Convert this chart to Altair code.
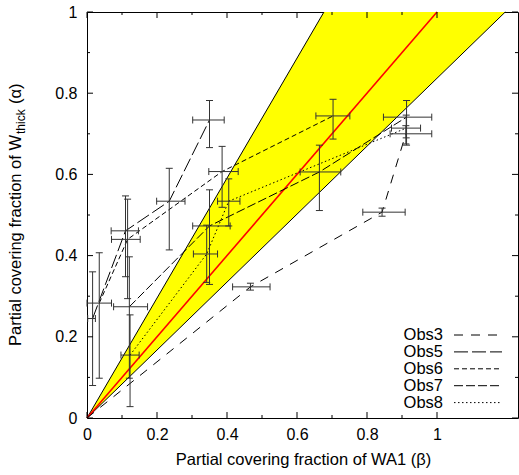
import altair as alt
import pandas as pd

# ---- series definitions -------------------------------------------------
series_names = ["Obs3", "Obs5", "Obs6", "Obs7", "Obs8"]
series_dashes = [[9, 8], [14, 4], [5, 3], [9, 3], [1.5, 2.5]]

# ---- measured points: covering fractions with error-bar extents ----------
pt_series = (["Obs3"] * 4 + ["Obs5"] * 4 + ["Obs6"] * 4
             + ["Obs7"] * 4 + ["Obs8"] * 4)
beta = [0.000, 0.467, 0.843, 0.911,
        0.016, 0.110, 0.235, 0.350,
        0.035, 0.116, 0.386, 0.703,
        0.121, 0.350, 0.664, 0.913,
        0.123, 0.342, 0.405, 0.912]
alpha = [0.000, 0.323, 0.507, 0.700,
         0.245, 0.461, 0.534, 0.734,
         0.283, 0.440, 0.607, 0.744,
         0.274, 0.473, 0.606, 0.741,
         0.155, 0.404, 0.534, 0.714]
beta_lo = [None, 0.416, 0.788, 0.866,
           0.002, 0.069, 0.199, 0.302,
           0.000, 0.070, 0.348, 0.654,
           0.076, 0.302, 0.609, 0.847,
           0.097, 0.304, 0.373, 0.870]
beta_hi = [None, 0.523, 0.909, 0.985,
           0.024, 0.147, 0.280, 0.392,
           0.070, 0.152, 0.432, 0.751,
           0.173, 0.409, 0.725, 0.985,
           0.149, 0.373, 0.437, 0.953]
alpha_lo = [None, 0.315, 0.497, 0.675,
            0.080, 0.348, 0.414, 0.666,
            0.098, 0.294, 0.519, 0.687,
            0.098, 0.329, 0.511, 0.672,
            0.028, 0.334, 0.473, 0.690]
alpha_hi = [None, 0.332, 0.517, 0.720,
            0.360, 0.547, 0.615, 0.782,
            0.407, 0.539, 0.669, 0.785,
            0.397, 0.562, 0.672, 0.782,
            0.254, 0.475, 0.589, 0.746]

# ---- allowed region (yellow band) and the one-to-one line -----------------
band_beta = [0.0, 0.677, 1.195]
band_upper = [0.0, 1.0, 1.0]
band_lower = [0.0, 0.567, 1.0]
upper_edge_beta = [0.0, 0.677]
upper_edge_alpha = [0.0, 1.0]
lower_edge_beta = [0.0, 1.195]
lower_edge_alpha = [0.0, 1.0]
equal_beta = [0.0, 1.0]
equal_alpha = [0.0, 1.0]

x_major = [0.0, 0.2, 0.4, 0.6, 0.8, 1.0]
x_minor = [0.1, 0.3, 0.5, 0.7, 0.9]
y_major = [0.0, 0.2, 0.4, 0.6, 0.8, 1.0]
y_minor = [0.1, 0.3, 0.5, 0.7, 0.9]

# ---- layout ---------------------------------------------------------------
W, H = 431, 406
FONT = "Liberation Sans"
BAR = "#333333"

pts = pd.DataFrame({
    "series": pt_series, "beta": beta, "alpha": alpha,
    "blo": beta_lo, "bhi": beta_hi, "alo": alpha_lo, "ahi": alpha_hi,
})
pts["order"] = range(len(pts))

xs = alt.Scale(domain=[0, W / 350.0], nice=False, zero=False)
ys = alt.Scale(domain=[0, 1], nice=False, zero=False)
x_axis = alt.Axis(values=x_major, format="~g", labelPadding=8, title=None,
                  labelFlush=False)
y_axis = alt.Axis(values=y_major, format="~g", labelPadding=10, title=None,
                  labelFlush=False)


def X(field):
    return alt.X(field, scale=xs, axis=x_axis)


def Y(field):
    return alt.Y(field, scale=ys, axis=y_axis)


band_df = pd.DataFrame({"b": band_beta, "lo": band_lower, "hi": band_upper})
band = alt.Chart(band_df).mark_area(color="#ffff00", opacity=1).encode(
    x=X("b:Q"), y=Y("lo:Q"), y2="hi:Q",
)


def simple_line(bx, ay, color, width):
    df = pd.DataFrame({"b": bx, "a": ay})
    return alt.Chart(df).mark_line(color=color, strokeWidth=width).encode(
        x=X("b:Q"), y=Y("a:Q"))


upper_edge = simple_line(upper_edge_beta, upper_edge_alpha, "black", 1)
lower_edge = simple_line(lower_edge_beta, lower_edge_alpha, "black", 1)
equal_line = simple_line(equal_beta, equal_alpha, "#ff0000", 1.6)

base = alt.Chart(pts)
valid = "isValid(datum.blo)"
bars = base.transform_filter(valid)

vbars = bars.mark_rule(color=BAR, strokeWidth=1).encode(
    x=X("beta:Q"), y=Y("alo:Q"), y2="ahi:Q")
hbars = bars.mark_rule(color=BAR, strokeWidth=1).encode(
    x=X("blo:Q"), x2="bhi:Q", y=Y("alpha:Q"))
caps_lo = bars.mark_rule(color=BAR, strokeWidth=1, xOffset=-3.5, x2Offset=3.5).encode(
    x=X("beta:Q"), x2="beta:Q", y=Y("alo:Q"))
caps_hi = bars.mark_rule(color=BAR, strokeWidth=1, xOffset=-3.5, x2Offset=3.5).encode(
    x=X("beta:Q"), x2="beta:Q", y=Y("ahi:Q"))
caps_l = bars.mark_rule(color=BAR, strokeWidth=1, yOffset=-3.5, y2Offset=3.5).encode(
    x=X("blo:Q"), y=Y("alpha:Q"), y2="alpha:Q")
caps_r = bars.mark_rule(color=BAR, strokeWidth=1, yOffset=-3.5, y2Offset=3.5).encode(
    x=X("bhi:Q"), y=Y("alpha:Q"), y2="alpha:Q")

dash_scale = alt.Scale(domain=series_names, range=series_dashes)
series_lines = base.mark_line(color="black", strokeWidth=1).encode(
    x=X("beta:Q"), y=Y("alpha:Q"), order="order:Q", detail="series:N",
    strokeDash=alt.StrokeDash("series:N", scale=dash_scale, legend=None),
)


# ---- inward ticks on all four sides --------------------------------------
def tick_layers(vals_x, vals_y, length):
    rx = alt.Chart(pd.DataFrame({"v": vals_x})).mark_rule(color="black", strokeWidth=1)
    ry = alt.Chart(pd.DataFrame({"v": vals_y})).mark_rule(color="black", strokeWidth=1)
    return [
        rx.encode(x=X("v:Q"), y=alt.value(H), y2=alt.value(H - length)),
        rx.encode(x=X("v:Q"), y=alt.value(0), y2=alt.value(length)),
        ry.encode(y=Y("v:Q"), x=alt.value(0), x2=alt.value(length)),
        ry.encode(y=Y("v:Q"), x=alt.value(W), x2=alt.value(W - length)),
    ]


ticks = tick_layers(x_major, y_major, 6) + tick_layers(x_minor, y_minor, 3)


def label(text, x, y, size=16.5, align="center", baseline="alphabetic", angle=0):
    kw = dict(font=FONT, fontSize=size, color="black", align=align, baseline=baseline)
    if angle:
        kw["angle"] = angle
    return alt.Chart(pd.DataFrame({"t": [text]})).mark_text(**kw).encode(
        text="t:N", x=alt.value(x), y=alt.value(y))


# ---- axis titles ----------------------------------------------------------
x_title = label("Partial covering fraction of WA1 (\u03b2)", 216.5, 453)
yt_main = label("Partial covering fraction of W", -66, 123, align="right", angle=270)
yt_sub = label("thick", -62, 122, size=12, align="left", angle=270)
yt_end = label("(\u03b1)", -66, 92, align="left", angle=270)

# ---- legend (label on the left, line sample on the right) ----------------
legend_layers = []
for i, name in enumerate(series_names):
    ypix = 323 + i * 16.9
    legend_layers.append(label(name, 356, ypix, align="right", baseline="middle"))
    legend_layers.append(
        alt.Chart(pd.DataFrame({"s": [name]})).mark_rule(
            color="black", strokeWidth=1, strokeDash=series_dashes[i]
        ).encode(x=alt.value(367), x2=alt.value(415), y=alt.value(ypix))
    )

chart = alt.layer(
    band, upper_edge, lower_edge, equal_line,
    series_lines, vbars, hbars, caps_lo, caps_hi, caps_l, caps_r,
    *ticks, x_title, yt_main, yt_sub, yt_end, *legend_layers,
).properties(
    width=W, height=H,
    autosize=alt.AutoSizeParams(type="none"),
    padding={"left": 87, "top": 12, "right": 1, "bottom": 57},
    background="white",
).configure_view(
    stroke="black", strokeWidth=1,
).configure_axis(
    grid=False, ticks=False, domain=False,
    labelFont=FONT, labelFontSize=16, labelColor="black",
)

chart.save("out.html", embed_options={"renderer": "svg", "actions": False})
